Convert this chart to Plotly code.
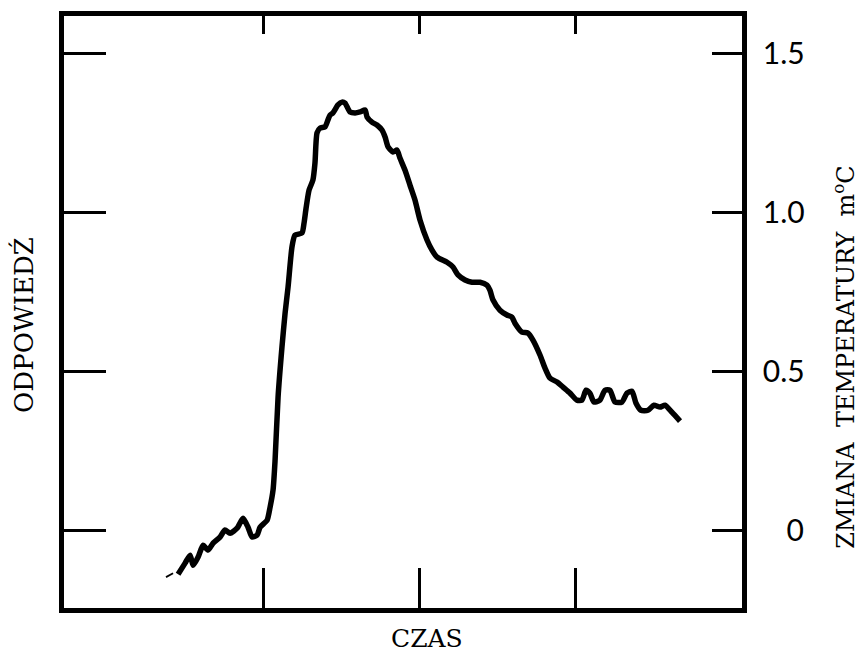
import plotly.graph_objects as go

# Time axis (arbitrary units) and temperature change (m°C) of the response curve
czas = [4.57, 5.02, 5.34, 5.53, 5.85, 6.17, 6.49, 6.81, 7.25, 7.57, 7.89, 8.34, 8.72, 9.04,
        9.30, 9.62, 9.81, 10.26, 10.45, 10.64, 10.77, 10.96, 11.21, 11.41, 11.60, 11.85,
        12.04, 12.49, 12.62, 12.75, 12.94, 13.19, 13.32, 13.45, 13.64, 13.96, 14.15, 14.28,
        14.47, 14.79, 15.05, 15.24, 15.56, 15.88, 16.20, 16.52, 16.65, 16.96, 17.28, 17.60,
        17.80, 17.99, 18.31, 18.56, 18.75, 19.07, 19.39, 19.71, 20.03, 20.48, 20.80, 21.12,
        21.76, 22.14, 22.46, 22.91, 23.35, 23.87, 24.31, 24.50, 24.70, 25.14, 25.59, 25.91,
        26.10, 26.55, 26.93, 27.25, 27.70, 28.02, 28.34, 28.79, 29.17, 29.62, 30.06, 30.38,
        30.64, 30.89, 31.15, 31.53, 31.85, 32.17, 32.49, 32.94, 33.26, 33.58, 33.83, 34.15,
        34.60, 34.98, 35.37, 35.69, 36.13, 36.65]
zmiana = [-0.138, -0.103, -0.078, -0.110, -0.084, -0.047, -0.062, -0.040, -0.021, 0.001,
          -0.009, 0.007, 0.038, 0.010, -0.021, -0.015, 0.010, 0.032, 0.073, 0.127, 0.221,
          0.419, 0.577, 0.684, 0.766, 0.892, 0.929, 0.936, 0.967, 1.014, 1.071, 1.103, 1.156,
          1.251, 1.266, 1.270, 1.292, 1.307, 1.314, 1.339, 1.348, 1.345, 1.317, 1.314, 1.317,
          1.323, 1.301, 1.285, 1.276, 1.260, 1.238, 1.207, 1.191, 1.197, 1.172, 1.134, 1.087,
          1.040, 0.977, 0.914, 0.882, 0.860, 0.844, 0.829, 0.804, 0.788, 0.781, 0.781, 0.772,
          0.756, 0.725, 0.693, 0.678, 0.671, 0.652, 0.624, 0.621, 0.599, 0.552, 0.511, 0.479,
          0.467, 0.451, 0.432, 0.410, 0.410, 0.441, 0.432, 0.404, 0.410, 0.441, 0.441, 0.404,
          0.404, 0.432, 0.438, 0.401, 0.378, 0.378, 0.394, 0.388, 0.394, 0.372, 0.344]

# short pen stroke preceding the trace
czas_start = [3.80, 4.25]
zmiana_start = [-0.147, -0.135]

# axis ticks
x_ticks = [10, 20, 30]
y_ticks = [0, 0.5, 1.0, 1.5]
y_ticklabels = ["\u2007\u20080", "0.5", "1.0", "1.5"]

x_range = [-2.72, 40.61]
y_range = [-0.2443, 1.619]

fig = go.Figure()
fig.add_trace(go.Scatter(x=czas, y=zmiana, mode="lines",
                         line=dict(color="black", width=5.5, shape="spline", smoothing=0.6),
                         showlegend=False, hoverinfo="skip"))
fig.add_trace(go.Scatter(x=czas_start, y=zmiana_start, mode="lines",
                         line=dict(color="black", width=1.8),
                         showlegend=False, hoverinfo="skip"))
# empty trace attaching the top / right axes
fig.add_trace(go.Scatter(x=[None], y=[None], xaxis="x2", yaxis="y2", mode="lines",
                         showlegend=False, hoverinfo="skip"))

axis_common = dict(showgrid=False, zeroline=False, showline=True, linecolor="black",
                   linewidth=4.5, tickcolor="black", tickwidth=3, ticks="inside")

fig.update_layout(
    width=859, height=655,
    margin=dict(l=64, r=117, t=16, b=47),
    paper_bgcolor="white", plot_bgcolor="white",
    xaxis=dict(range=x_range, tickvals=x_ticks, showticklabels=False, ticklen=40,
               side="bottom", mirror=False, **axis_common),
    xaxis2=dict(range=x_range, tickvals=x_ticks, showticklabels=False, ticklen=18,
                side="top", overlaying="x", mirror=False, **axis_common),
    yaxis=dict(range=y_range, tickvals=y_ticks, showticklabels=False, ticklen=42,
               side="left", mirror=False, **axis_common),
    yaxis2=dict(range=y_range, tickvals=y_ticks, ticktext=y_ticklabels, ticklen=30,
                side="right", overlaying="y", mirror=False, ticklabelstandoff=10,
                tickfont=dict(family="Lato", size=30, color="black"), **axis_common),
    annotations=[
        dict(text="ODPOWIEDŹ", x=-0.0605, y=0.478, xref="paper", yref="paper",
             textangle=-90, showarrow=False, xanchor="center", yanchor="middle",
             font=dict(family="DejaVu Serif", size=26, color="black")),
        dict(text="ZMIANA\u00a0\u00a0TEMPERATURY\u00a0\u00a0m<sup>o</sup>C", x=1.150, y=0.424,
             xref="paper", yref="paper", textangle=-90, showarrow=False,
             xanchor="center", yanchor="middle",
             font=dict(family="DejaVu Serif", size=24, color="black")),
        dict(text="CZAS", x=0.535, y=-0.0507, xref="paper", yref="paper",
             showarrow=False, xanchor="center", yanchor="middle",
             font=dict(family="DejaVu Serif", size=25, color="black")),
    ],
)

fig.write_html("out.html")
